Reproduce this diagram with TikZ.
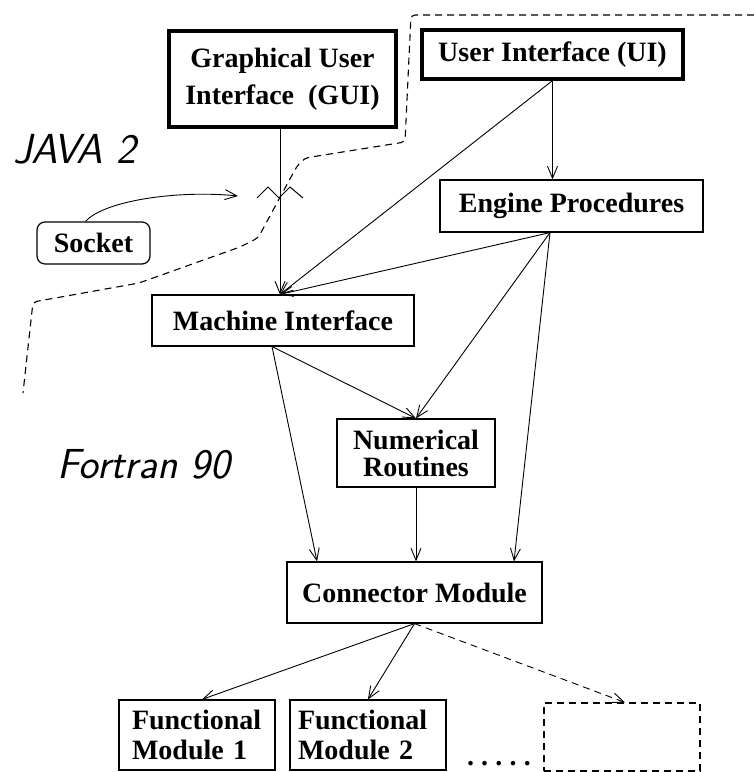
\documentclass[tikz,border=0pt]{standalone}
\usepackage{fontspec}
\setmainfont{Liberation Serif}
\usetikzlibrary{arrows.meta,calc}
\begin{document}
\begin{tikzpicture}[x=1pt,y=-1pt,
  box/.style={draw, line width=1.2pt, inner sep=0pt, font=\bfseries\fontsize{28}{30}\selectfont, align=center},
  thickbox/.style={box, line width=3.2pt},
  fmbox/.style={draw, line width=1.2pt, inner ysep=0pt, font=\bfseries\fontsize{28}{30}\selectfont, align=left, minimum height=70pt},
  arr/.style={line width=0.9pt, -{Straight Barb[length=12pt,width=10pt,line width=0.9pt]}},
  dashline/.style={line width=1.1pt, dash pattern=on 7pt off 5pt},
  lang/.style={font=\sffamily\itshape\fontsize{42}{42}\selectfont, inner sep=0pt, anchor=base west}]
\useasboundingbox (0,0) rectangle (754,772);

% nodes
\node[thickbox, minimum width=227pt, minimum height=96pt, font=\bfseries\fontsize{28}{37}\selectfont] (gui) at (282.5,79) {Graphical User\\Interface~~(GUI)};
\node[thickbox, minimum width=261pt, minimum height=49pt] (ui) at (552.5,54.5) {User Interface (UI)};
\node[box, minimum width=263pt, minimum height=52pt] (eng) at (571.5,206) {Engine Procedures};
\node[box, minimum width=262pt, minimum height=51pt] (mi) at (283,320.5) {Machine Interface};
\node[box, minimum width=158pt, minimum height=68pt, font=\bfseries\fontsize{28}{27}\selectfont] (num) at (416,453) {Numerical\\Routines};
\node[box, minimum width=255pt, minimum height=61pt] (con) at (414.5,592.5) {Connector Module};
\node[fmbox, inner xsep=13pt, text width=130pt] (fm1) at (197,735) {Functional\\Module 1};
\node[fmbox, inner xsep=8pt, text width=140pt] (fm2) at (368,735) {Functional\\Module 2};
\node[draw, dashline, minimum width=156pt, minimum height=68pt, inner sep=0pt] (dbox) at (622,737) {};
\node[box, rounded corners=8pt, minimum width=113pt, minimum height=42pt] (sock) at (93.5,243) {Socket};
\node[lang] (java) at (13,163) {JAVA 2};
\node[lang] (fortran) at (57,478) {Fortran 90};
\node[font=\bfseries\fontsize{28}{30}\selectfont, inner sep=0pt, anchor=base] (dots) at (499,765) {\makebox[64pt]{.\hfill.\hfill.\hfill.\hfill.}};

% boundary between JAVA and Fortran
\draw[dashline, rounded corners=4pt] (754,15) -- (411,15) -- (405,142) -- (305,158) -- (297,166) -- (258,238) -- (240,247) -- (139,283) -- (33,302) -- (23,393);

% socket symbol on the GUI line
\coordinate (sockend) at (238,196);
\draw[line width=1pt] (257,198) -- (268,187) -- (279,198) -- (290,187) -- (303,198);
\draw[arr] ([xshift=-8pt]sock.north) .. controls (105,200) and (180,190) .. (sockend);

% connectors
\draw[arr] ([xshift=-2.5pt]gui.south) -- ([xshift=-3pt]mi.north);
\draw[arr] (ui.south) -- ([xshift=-3pt]mi.north);
\draw[arr] (ui.south) -- (ui.south |- eng.north);
\draw[arr] ([xshift=-21.5pt]eng.south) -- ([xshift=-3pt]mi.north);
\draw[arr] ([xshift=-21.5pt]eng.south) -- (num.north);
\draw[arr] ([xshift=-21.5pt]eng.south) -- ([xshift=99.5pt]con.north);
\draw[arr] ([xshift=-11pt]mi.south) -- (num.north);
\draw[arr] ([xshift=-11pt]mi.south) -- ([xshift=-97.5pt]con.north);
\draw[arr] (num.south) -- (num.south |- con.north);
\draw[arr] (con.south) -- ([xshift=5pt]fm1.north);
\draw[arr] (con.south) -- (fm2.north);
\draw[arr, dash pattern=on 7pt off 5pt] (con.south) -- ([xshift=3pt]dbox.north);
\end{tikzpicture}
\end{document}
